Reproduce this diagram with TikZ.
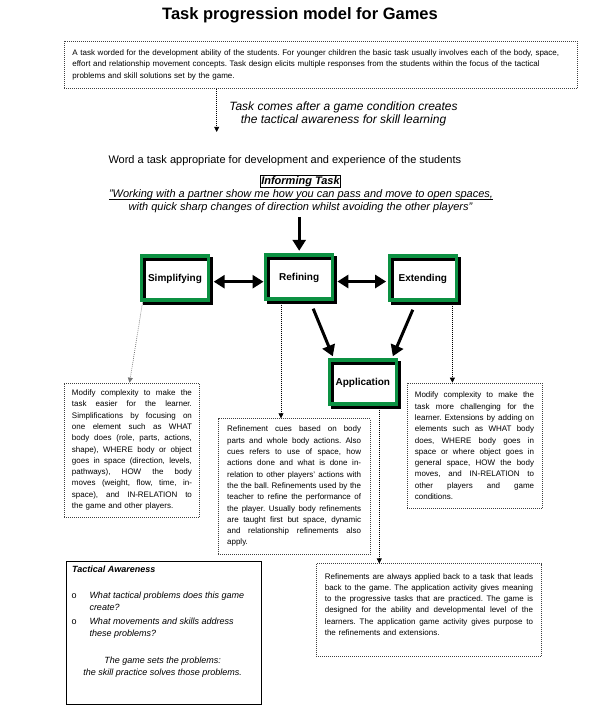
\documentclass[tikz,border=0pt]{standalone}
\usepackage{fontspec}
\setmainfont{Liberation Sans}
\usetikzlibrary{arrows.meta}
\definecolor{boxgreen}{RGB}{12,145,66}
\frenchspacing
\newlength{\jw}
\newcommand{\jl}[1]{\leavevmode\hbox to\jw{\spaceskip=0.278em plus 1fil\relax\xspaceskip=\spaceskip #1}}
\begin{document}
\begin{tikzpicture}[x=1pt,y=-1pt,
  gbox/.style={draw=boxgreen, line width=3.4pt, minimum width=67pt, minimum height=44pt,
    inner sep=0pt, text height=7.2pt, text depth=0pt, font=\fontsize{10}{12}\selectfont\bfseries,
    preaction={draw=black, line width=3.4pt, transform canvas={shift={(3pt,-3pt)}}}},
  tbox/.style={draw=black!75, line width=0.6pt, dash pattern=on 0.8pt off 1.2pt,
    anchor=north west, align=left, inner ysep=1pt,
    font=\fontsize{8}{11.3}\selectfont},
  bigarrow/.style={line width=3pt, -{Triangle[length=11pt,width=13pt]}},
  dblarrow/.style={line width=3pt, {Triangle[length=11pt,width=13pt]}-{Triangle[length=11pt,width=13pt]}},
  dotarrow/.style={line width=0.7pt, dash pattern=on 0.8pt off 1.2pt, -{Triangle[length=5pt,width=5pt]}},
  plain/.style={inner sep=0pt}
]
\useasboundingbox[fill=white] (0,0) rectangle (600,707);

% title
\node[plain, font=\fontsize{16.5}{18}\selectfont\bfseries, anchor=base] (title) at (300,19.5) {Task progression model for Games};

% top box
\node[tbox, text width=497pt, inner xsep=8pt, minimum width=513pt, minimum height=47.6pt] (topbox) at (64.1,40.6)
{A task worded for the development ability of the students. For younger children the basic task usually involves each of the body, space,\\
effort and relationship movement concepts. Task design elicits multiple responses from the students within the focus of the tactical\\
problems and skill solutions set by the game.};

\coordinate (t1) at (216.7,131.9);
\draw[dotarrow] (topbox.south -| t1) -- (t1);

\node[plain, font=\fontsize{12}{12.4}\selectfont\itshape, align=center] (cond) at (343.5,114) {Task comes after a game condition creates\\the tactical awareness for skill learning};

\node[plain, font=\fontsize{11}{13}\selectfont, anchor=base west] (word) at (108.3,163) {Word a task appropriate for development and experience of the students};

\node[draw, line width=0.8pt, inner xsep=1pt, inner ysep=1pt, font=\fontsize{11}{13}\selectfont\bfseries\itshape, anchor=base] (inform) at (300.5,184) {Informing Task};

\node[plain, font=\fontsize{11}{13}\selectfont\itshape, anchor=base] (q1) at (301,197.5) {"Working with a partner show me how you can pass and move to open spaces,};
\node[plain, font=\fontsize{11}{13}\selectfont\itshape, anchor=base] (q2) at (300.5,210.5) {with quick sharp changes of direction whilst avoiding the other players"};
\draw[line width=0.7pt] ([yshift=-2pt]q1.base west) -- ([yshift=-2pt]q1.base east);

% green boxes
\node[gbox] (simp) at (175,278) {Simplifying};
\node[gbox] (ref) at (299.2,277) {Refining};
\node[gbox] (ext) at (422.8,278) {Extending};
\node[gbox] (app) at (362.8,382) {Application};

% thick arrows
\draw[bigarrow, shorten >=2.5pt] ([yshift=-4pt]ref.north |- q2.south) -- (ref.north);
\draw[dblarrow, shorten <=3.5pt, shorten >=0.5pt] ([yshift=-3.7pt]simp.east) -- ([yshift=-3.7pt]simp.east -| ref.west);
\draw[dblarrow, shorten <=3pt, shorten >=1.5pt] ([yshift=-4.5pt]ref.east) -- ([yshift=-4.5pt]ref.east -| ext.west);
\draw[bigarrow] ([xshift=14pt,yshift=-8pt]ref.south) -- ([xshift=-30pt,yshift=2pt]app.north);
\draw[bigarrow] ([xshift=-10pt,yshift=-8pt]ext.south) -- ([xshift=30pt,yshift=2pt]app.north);

% text boxes
\node[tbox, text width=120pt, inner xsep=7.65pt, minimum width=135.3pt, minimum height=134pt] (simpbox) at (64,382.7)
{\setlength{\jw}{120pt}%
\jl{Modify complexity to make the}\\
\jl{task easier for the learner.}\\
\jl{Simplifications by focusing on}\\
\jl{one element such as WHAT}\\
\jl{body does (role, parts, actions,}\\
\jl{shape), WHERE body or object}\\
\jl{goes in space (direction, levels,}\\
\jl{pathways), HOW the body}\\
\jl{moves (weight, flow, time, in-}\\
\jl{space), and IN-RELATION to}\\
the game and other players.};

\node[tbox, text width=134pt, inner xsep=8pt, minimum width=152.3pt, minimum height=135.5pt] (refbox) at (217.7,418.3)
{\setlength{\jw}{134pt}%
\jl{Refinement cues based on body}\\
\jl{parts and whole body actions. Also}\\
\jl{cues refers to use of space, how}\\
\jl{actions done and what is done in-}\\
\jl{relation to other players' actions with}\\
\jl{the the ball. Refinements used by the}\\
\jl{teacher to refine the performance of}\\
\jl{the player. Usually body refinements}\\
\jl{are taught first but space, dynamic}\\
\jl{and relationship refinements also}\\
apply.};

\node[tbox, text width=119.3pt, inner xsep=7.5pt, minimum width=135pt, minimum height=125.6pt] (extbox) at (406.7,382.7)
{\setlength{\jw}{119.3pt}%
\jl{Modify complexity to make the}\\
\jl{task more challenging for the}\\
\jl{learner. Extensions by adding on}\\
\jl{elements such as WHAT body}\\
\jl{does, WHERE body goes in}\\
\jl{space or where object goes in}\\
\jl{general space, HOW the body}\\
\jl{moves, and IN-RELATION to}\\
\jl{other players and game}\\
conditions.};

\node[tbox, text width=208.3pt, inner xsep=8.6pt, minimum width=225.5pt, minimum height=92.6pt] (appbox) at (315.9,563.4)
{\setlength{\jw}{208.3pt}%
\jl{Refinements are always applied back to a task that leads}\\
\jl{back to the game. The application activity gives meaning}\\
\jl{to the progressive tasks that are practiced. The game is}\\
\jl{designed for the ability and developmental level of the}\\
\jl{learners. The application game activity gives purpose to}\\
the refinements and extensions.\\
\mbox{}};

% dotted connectors
\draw[dotarrow, draw=black!55] ([xshift=2.7pt,yshift=-1pt]simp.south west) -- ([xshift=-2.4pt]simpbox.north);
\draw[dotarrow] ([xshift=17pt]ref.south west) -- ([xshift=17pt]ref.south west |- refbox.north);
\draw[dotarrow] ([xshift=-5.6pt]ext.south east) -- ([xshift=-5.6pt]ext.south east |- extbox.north);
\draw[dotarrow] ([xshift=16.5pt]app.south) -- ([xshift=16.5pt]app.south |- appbox.north);

% tactical awareness box
\node[draw, line width=1pt, anchor=north west, minimum width=195.3pt, minimum height=142.3pt, inner sep=0pt] (tact) at (65.5,561.3) {};
\node[plain, font=\fontsize{9}{11}\selectfont\bfseries\itshape, anchor=base west] (tacttitle) at (72,572.5) {Tactical Awareness};
\node[plain, font=\fontsize{9}{11}\selectfont, anchor=base west] (b1) at (71.5,598.3) {o};
\node[plain, font=\fontsize{9}{11}\selectfont\itshape, anchor=base west] (l1) at (89.3,598.3) {What tactical problems does this game};
\node[plain, font=\fontsize{9}{11}\selectfont\itshape, anchor=base west] (l2) at (89.3,610.3) {create?};
\node[plain, font=\fontsize{9}{11}\selectfont, anchor=base west] (b2) at (71.5,624.3) {o};
\node[plain, font=\fontsize{9}{11}\selectfont\itshape, anchor=base west] (l3) at (89.3,624.3) {What movements and skills address};
\node[plain, font=\fontsize{9}{11}\selectfont\itshape, anchor=base west] (l4) at (89.3,636) {these problems?};
\node[plain, font=\fontsize{9}{11}\selectfont\itshape, anchor=base] (l5) at (162.6,663.3) {The game sets the problems:};
\node[plain, font=\fontsize{9}{11}\selectfont\itshape, anchor=base] (l6) at (162.6,675.6) {the skill practice solves those problems.};
\end{tikzpicture}
\end{document}
